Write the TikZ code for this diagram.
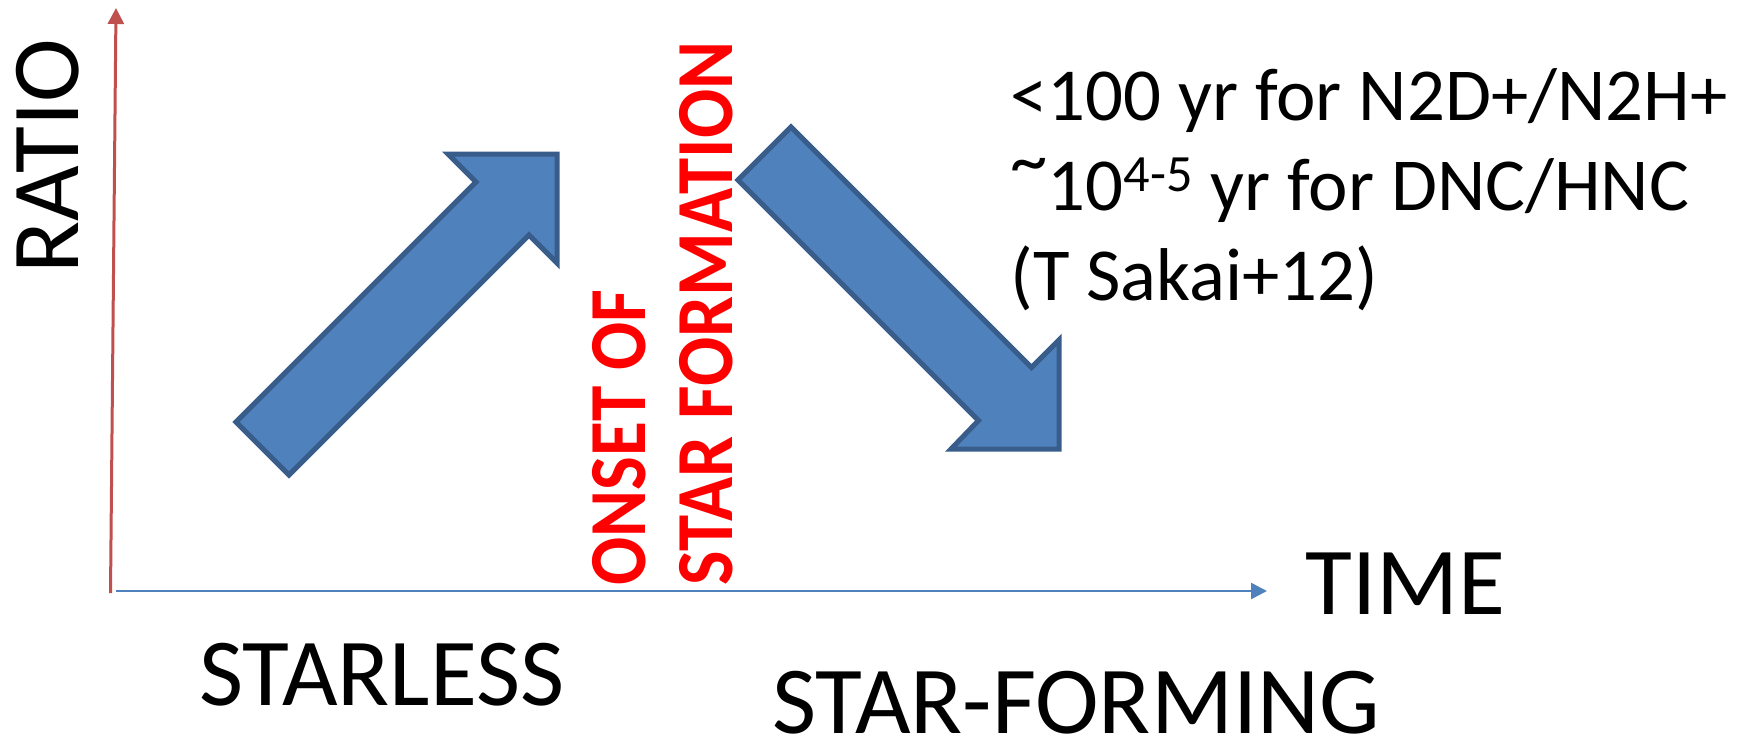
\documentclass[tikz,border=0pt]{standalone}
\usepackage{fontspec}
\usepackage{graphicx}
\setmainfont{Carlito}
\usetikzlibrary{arrows.meta}
\definecolor{axisred}{HTML}{C0504D}
\definecolor{axisblue}{HTML}{4F81BD}
\definecolor{arrowfill}{HTML}{4F81BD}
\definecolor{arrowline}{HTML}{385D8A}
\definecolor{onsetred}{HTML}{FF0000}
\begin{document}
\begin{tikzpicture}[x=0.5pt,y=-0.5pt,
  bigarrow/.style={fill=arrowfill, draw=arrowline, line width=2.5pt, line join=miter},
  axistip/.style={-{Triangle[length=8pt,width=8pt]}},
  biglabel/.style={font=\fontsize{48}{56}\selectfont, inner sep=0pt, anchor=base west},
  notelabel/.style={font=\fontsize{37.4}{44}\selectfont, inner sep=0pt, anchor=base west},
  onset/.style={font=\fontsize{40.5}{48}\selectfont\bfseries, text=onsetred, inner sep=0pt, rotate=90, anchor=base west},
]
\useasboundingbox (0,0) rectangle (1746,740);

% axes
\coordinate (origin) at (110.5,593);
\coordinate (ytop) at (116,8);
\coordinate (xstart) at (116,591);
\coordinate (xend) at (1267,591);
\draw[axisred, line width=1.5pt, axistip] (origin) -- (ytop);
\draw[axisblue, line width=1.25pt, axistip] (xstart) -- (xend);

% rising block arrow
\draw[bigarrow] (236,422) -- (476,182) -- (448,154) -- (557,154) -- (557,263)
  -- (529,235) -- (289,475) -- cycle;

% falling block arrow
\draw[bigarrow] (791,127) -- (1031.5,367.5) -- (1059,340) -- (1059,449)
  -- (951,449) -- (978.5,420.5) -- (738,180) -- cycle;

% axis labels
\node[biglabel, rotate=90] (ratio) at (78,274) {RATIO};
\node[biglabel] (time) at (1305,614) {TIME};
\node[biglabel] (starless) at (199,705) {STARLESS};
\node[biglabel] (starforming) at (772,733) {STAR-FORMING};

% vertical marker text
\node[onset] (onset1) at (645,586) {\scalebox{0.88}[1]{ONSET OF}};
\node[onset] (onset2) at (732,586) {\scalebox{0.9}[1]{STAR FORMATION}};

% timescale notes
\node[notelabel] (note1) at (1010,120) {<100 yr for N2D+/N2H+};
\node[notelabel] (note2) at (1010,210) {\raisebox{0.33em}{\textasciitilde}10\textsuperscript{4-5} yr for DNC/HNC};
\node[notelabel] (note3) at (1010,300) {(T Sakai+12)};
\end{tikzpicture}
\end{document}
